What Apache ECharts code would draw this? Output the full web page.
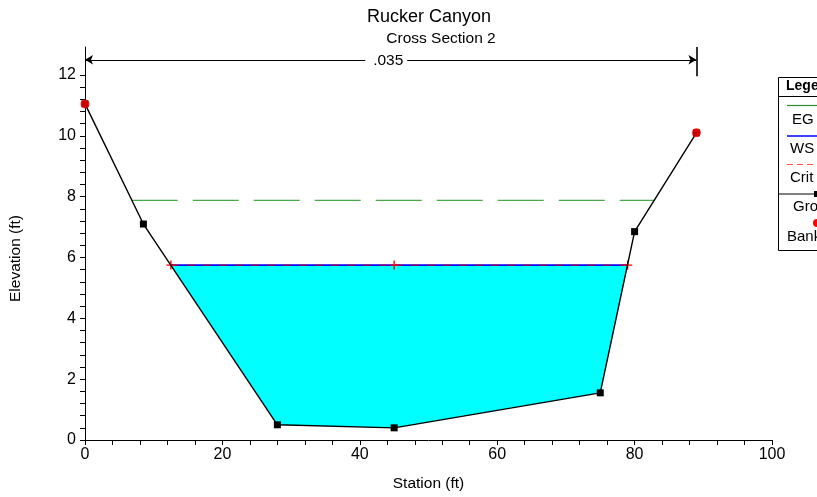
<!DOCTYPE html>
<html>
<head>
<meta charset="utf-8">
<script src="https://cdn.jsdelivr.net/npm/echarts@6/dist/echarts.min.js"></script>
<style>
html,body{margin:0;padding:0;background:#fff;}
#main{width:817px;height:497px;}
</style>
</head>
<body>
<div id="main"></div>
<script>
// ---- data ----
const groundStation = [0, 8.5, 28, 45, 75, 80, 89];
const groundElev = [11.05, 7.1, 0.5, 0.4, 1.55, 6.85, 10.1];
const bankStation = [0, 89];
const bankElev = [11.05, 10.1];
const wsStation = [12.5, 79.0];
const wsElev = [5.75, 5.75];
const critStation = [12.5, 45, 79.0];
const critElev = [5.75, 5.75, 5.75];
const egStation = [6.8, 82.85];
const egElev = [7.88, 7.88];
const waterStation = [12.5, 28, 45, 75, 79.0];
const waterElev = [5.75, 0.5, 0.4, 1.55, 5.75];
const nLabel = '.035';
const nStation = [0, 40.8, 46.9, 89];
const nElev = 12.5;
const nBar = [11.96, 12.92];
const yMax = 12.92;
const xTicks = [0, 20, 40, 60, 80, 100];
const yLabels = [0, 2, 4, 6, 8, 10, 12];
const yTicks = [0,0.4,0.8,1.2,1.6,2,2.4,2.8,3.2,3.6,4,4.4,4.8,5.2,5.6,6,6.4,6.8,7.2,7.6,8,8.4,8.8,9.2,9.6,10,10.4,10.8,11.2,11.6,12];
const legendItems = ['EG  PF 1', 'WS  PF 1', 'Crit  PF 1', 'Ground', 'Bank Sta'];

const pair = (xs, ys) => xs.map((x, i) => [x, ys[i]]);
const FONT = 'Liberation Sans, Arial, sans-serif';
const plusSym = 'path://M3.4,0h1.2v8h-1.2z M0,3.4h8v1.2h-8z';

const chart = echarts.init(document.getElementById('main'));
const option = {
  animation: false,
  backgroundColor: '#fff',
  title: [
    {text: 'Rucker Canyon', left: 424, top: 3, textAlign: 'center',
     textStyle: {fontFamily: FONT, fontSize: 18, fontWeight: 'normal', color: '#000'}},
    {text: 'Cross Section 2', left: 436, top: 26, textAlign: 'center',
     textStyle: {fontFamily: FONT, fontSize: 15.5, fontWeight: 'normal', color: '#000'}}
  ],
  grid: {left: 85, right: 45, top: 47, bottom: 55, containLabel: false},
  xAxis: {
    type: 'value', min: 0, max: 100, interval: 20,
    name: 'Station (ft)', nameLocation: 'middle', nameGap: 36,
    nameTextStyle: {fontFamily: FONT, fontSize: 15.5, color: '#000'},
    axisLine: {lineStyle: {color: '#000', width: 1}},
    axisTick: {length: 5, lineStyle: {color: '#000'}},
    minorTick: {show: true, splitNumber: 5, length: 5, lineStyle: {color: '#000'}},
    axisLabel: {fontFamily: FONT, fontSize: 16, color: '#000', margin: 7},
    splitLine: {show: false}
  },
  yAxis: {
    type: 'value', min: 0, max: yMax,
    axisLine: {show: true, lineStyle: {color: '#000', width: 1}},
    axisTick: {show: true, length: 5, customValues: yTicks, lineStyle: {color: '#000'}},
    axisLabel: {fontFamily: FONT, fontSize: 16, color: '#000', margin: 9, customValues: yLabels},
    splitLine: {show: false}
  },
  graphic: [
    {type: 'text', left: 8, top: 215, rotation: Math.PI / 2,
     style: {text: 'Elevation (ft)', font: '15.5px ' + FONT, fill: '#000', letterSpacing: 0.6}},
    // legend box (clipped at the right edge like the reference)
    {type: 'rect', shape: {x: 778.5, y: 77.5, width: 60, height: 173}, style: {fill: '#fff', stroke: '#000', lineWidth: 1}, z: 10},
    {type: 'text', x: 786, y: 79, style: {text: 'Legend', font: 'bold 14px ' + FONT, fill: '#000', letterSpacing: 1}, z: 11},
    {type: 'line', shape: {x1: 778, y1: 96.5, x2: 817, y2: 96.5}, style: {stroke: '#000', lineWidth: 1}, z: 11},
    {type: 'line', shape: {x1: 787, y1: 105.5, x2: 817, y2: 105.5}, style: {stroke: '#2e8b2e', lineWidth: 1.2}, z: 11},
    {type: 'text', x: 792, y: 112, style: {text: legendItems[0], font: '15px ' + FONT, fill: '#000'}, z: 11},
    {type: 'line', shape: {x1: 787, y1: 136, x2: 817, y2: 136}, style: {stroke: '#0000ff', lineWidth: 1.5}, z: 11},
    {type: 'text', x: 790, y: 141, style: {text: legendItems[1], font: '15px ' + FONT, fill: '#000'}, z: 11},
    {type: 'line', shape: {x1: 787, y1: 164.5, x2: 817, y2: 164.5}, style: {stroke: '#ff5050', lineWidth: 1.2, lineDash: [6, 4]}, z: 11},
    {type: 'text', x: 790, y: 170, style: {text: legendItems[2], font: '15px ' + FONT, fill: '#000'}, z: 11},
    {type: 'line', shape: {x1: 779, y1: 194, x2: 817, y2: 194}, style: {stroke: '#000', lineWidth: 1.2}, z: 11},
    {type: 'rect', shape: {x: 814, y: 191, width: 6, height: 6}, style: {fill: '#000'}, z: 11},
    {type: 'text', x: 793, y: 199, style: {text: legendItems[3], font: '15px ' + FONT, fill: '#000'}, z: 11},
    {type: 'circle', shape: {cx: 817, cy: 223, r: 4}, style: {fill: '#ff0000'}, z: 11},
    {type: 'text', x: 787, y: 229, style: {text: legendItems[4], font: '15px ' + FONT, fill: '#000'}, z: 11}
  ],
  series: [
    {
      type: 'custom', name: 'water', silent: true, z: 1,
      data: [0],
      renderItem: function (params, api) {
        const pts = waterStation.map((x, i) => api.coord([x, waterElev[i]]));
        return {type: 'polygon', shape: {points: pts}, style: {fill: '#00ffff', stroke: 'none'}};
      }
    },
    {
      type: 'line', name: 'EG PF 1', data: pair(egStation, egElev), showSymbol: false, z: 3,
      lineStyle: {color: '#4aa84a', width: 1.3, type: [46, 15]}
    },
    {
      type: 'line', name: 'WS PF 1', data: pair(wsStation, wsElev), showSymbol: false, z: 3,
      lineStyle: {color: '#0000ff', width: 1.6}
    },
    {
      type: 'line', name: 'Crit PF 1', data: pair(critStation, critElev), z: 4,
      symbol: plusSym, symbolSize: 9, itemStyle: {color: '#ff0000'},
      lineStyle: {color: '#e00000', width: 1.6, type: [8, 8], opacity: 0.55}
    },
    {
      type: 'line', name: 'Ground', data: pair(groundStation, groundElev), z: 5,
      symbol: 'rect', symbolSize: 7, itemStyle: {color: '#000'},
      lineStyle: {color: '#000', width: 1.4},
      clip: false
    },
    {
      type: 'scatter', name: 'Bank Sta', data: pair(bankStation, bankElev), z: 6,
      symbol: 'circle', symbolSize: 9, itemStyle: {color: '#ff0000'}, clip: false
    },
    {
      type: 'line', name: 'n', data: [], z: 6, clip: false,
      markLine: {
        silent: true, animation: false,
        label: {show: false},
        lineStyle: {color: '#000', width: 1, type: 'solid'},
        data: [
          [{coord: [nStation[0], nElev], symbol: 'arrow', symbolSize: [7, 8]}, {coord: [nStation[1], nElev], symbol: 'none'}],
          [{coord: [nStation[2], nElev], symbol: 'none'}, {coord: [nStation[3], nElev], symbol: 'arrow', symbolSize: [7, 8]}],
          [{coord: [nStation[3], nBar[0]], symbol: 'none', lineStyle: {width: 1.6}}, {coord: [nStation[3], nBar[1]], symbol: 'none'}]
        ]
      },
      markPoint: {
        silent: true, animation: false, symbol: 'circle', symbolSize: 1,
        itemStyle: {color: 'transparent'},
        label: {show: true, position: 'inside', formatter: nLabel, fontFamily: FONT, fontSize: 15.5, color: '#000', offset: [2, 1]},
        data: [{coord: [(nStation[1] + nStation[2]) / 2, nElev]}]
      }
    }
  ]
};
chart.setOption(option);
</script>
</body>
</html>
